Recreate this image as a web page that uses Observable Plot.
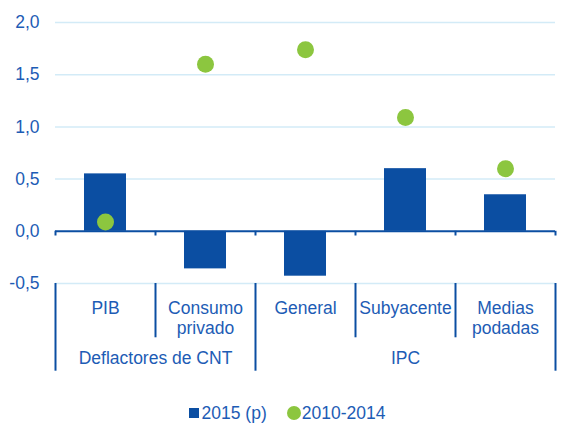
<!DOCTYPE html>
<html>
<head>
<meta charset="utf-8">
<script src="https://cdn.jsdelivr.net/npm/d3@7"></script>
<script src="https://cdn.jsdelivr.net/npm/@observablehq/plot@0.6"></script>
<style>
  body { margin: 0; background: #fff; font-family: "Liberation Sans", Arial, sans-serif; }
  #legend { display: flex; justify-content: center; align-items: center; margin-top: 8px; padding-left: 8px;
            font-size: 17.5px; color: #1d5cb5; line-height: 20px; }
  .item { display: flex; align-items: center; margin: 0 10px; }
  .sq { width: 10px; height: 10px; background: #0b4ea2; margin-right: 3px; }
  .ci { width: 14px; height: 14px; border-radius: 50%; background: #8cc63f; margin-right: 1px; }
</style>
</head>
<body>
<div id="chart"></div>
<div id="legend">
  <div class="item"><span class="sq"></span><span id="l1"></span></div>
  <div class="item"><span class="ci"></span><span id="l2"></span></div>
</div>
<script>
const categories = ["PIB", "Consumo\nprivado", "General", "Subyacente", "Medias\npodadas"];
const groups = ["Deflactores de CNT", "Deflactores de CNT", "IPC", "IPC", "IPC"];
const groupNames = ["Deflactores de CNT", "IPC"];
const series2015 = [0.55, -0.36, -0.43, 0.60, 0.35];
const series2010_2014 = [0.09, 1.60, 1.74, 1.09, 0.60];
const seriesNames = ["2015 (p)", "2010-2014"];
const yTicks = [-0.5, 0, 0.5, 1.0, 1.5, 2.0];

const textColor = "#1d5cb5";
const barColor = "#0b4ea2";
const dotColor = "#8cc63f";
const gridColor = "#d3ebf7";

const data = categories.map((c, i) => ({i, cat: c, group: groups[i], v15: series2015[i], v10: series2010_2014[i]}));
const bounds = d3.range(categories.length + 1).map(k => k - 0.5);
const groupBounds = [];
const groupInfo = groupNames.map(g => {
  const idx = data.filter(d => d.group === g).map(d => d.i);
  return {name: g, center: d3.mean(idx), lo: d3.min(idx) - 0.5, hi: d3.max(idx) + 0.5};
});
groupInfo.forEach(g => { groupBounds.push(g.lo, g.hi); });
const gb = Array.from(new Set(groupBounds));
const catOnly = bounds.filter(b => !gb.includes(b));

const yMin = d3.min(yTicks), yMax = d3.max(yTicks);
const catLineEnd = yMin - 0.52;
const grpLineEnd = yMin - 0.84;

const plot = Plot.plot({
  width: 566,
  height: 395,
  marginLeft: 55,
  marginRight: 11,
  marginTop: 22,
  marginBottom: 112,
  style: {fontFamily: "'Liberation Sans', Arial, sans-serif", fontSize: "17.5px", color: textColor, background: "#fff"},
  x: {domain: [-0.5, categories.length - 0.5], axis: null},
  y: {domain: [yMin, yMax], ticks: yTicks, tickSize: 0, tickPadding: 16, label: null,
      tickFormat: d => d.toFixed(1).replace(".", ",")},
  marks: [
    Plot.ruleY(yTicks.filter(t => t !== 0), {stroke: gridColor, strokeWidth: 1.5}),
    Plot.rectY(data, {x1: d => d.i - 0.21, x2: d => d.i + 0.21, y1: 0, y2: "v15", fill: barColor}),
    Plot.ruleY([0], {stroke: barColor, strokeWidth: 2}),
    Plot.ruleX(bounds, {x: d => d, y1: 0, y2: -0.045, stroke: barColor, strokeWidth: 2}),
    Plot.ruleX(catOnly, {x: d => d, y1: yMin, y2: catLineEnd, stroke: barColor, strokeWidth: 2}),
    Plot.ruleX(gb, {x: d => d, y1: yMin, y2: grpLineEnd, stroke: barColor, strokeWidth: 2}),
    Plot.dot(data, {x: "i", y: "v10", r: 8.5, fill: dotColor}),
    Plot.text(data, {x: "i", y: yMin, text: "cat", lineAnchor: "top", dy: 16, lineHeight: 1.15,
                     fill: textColor, fontSize: 17.5}),
    Plot.text(groupInfo, {x: "center", y: yMin, text: "name", lineAnchor: "top", dy: 68,
                          fill: textColor, fontSize: 17.5})
  ]
});
document.getElementById("chart").append(plot);
document.getElementById("l1").textContent = seriesNames[0];
document.getElementById("l2").textContent = seriesNames[1];
</script>
</body>
</html>
